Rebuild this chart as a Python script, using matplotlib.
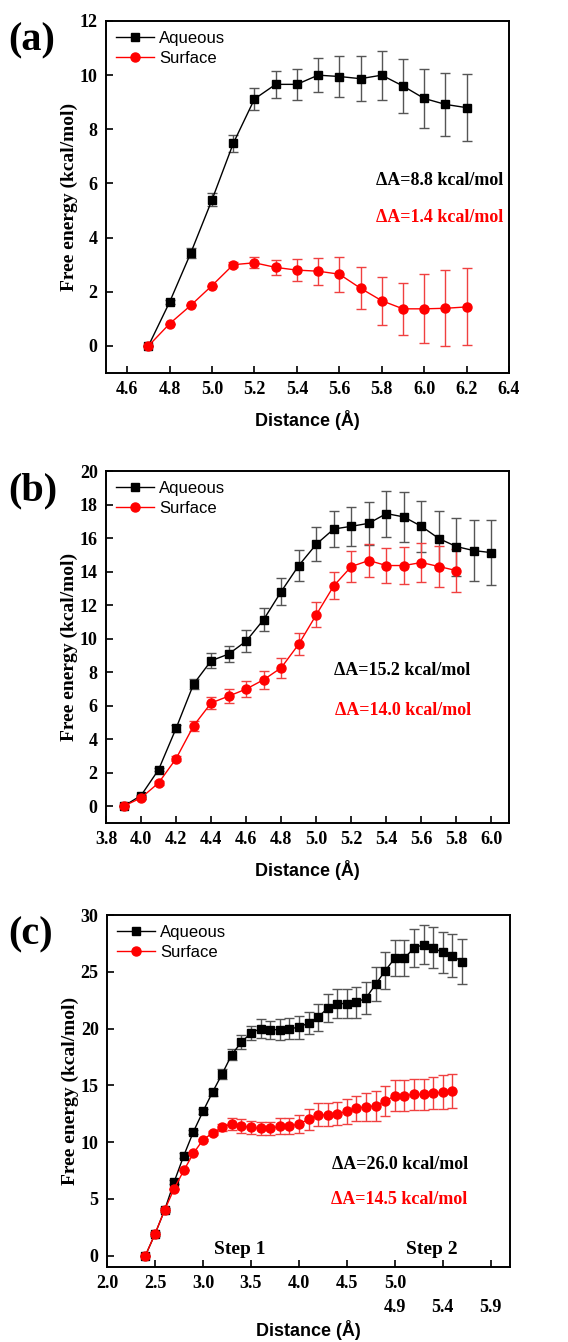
import matplotlib.pyplot as plt
import matplotlib.transforms as mtransforms
from matplotlib.lines import Line2D

# ---- panel (a) ----
dist_a = [4.7, 4.8, 4.9, 5.0, 5.1, 5.2, 5.3, 5.4, 5.5, 5.6, 5.7, 5.8, 5.9, 6.0, 6.1, 6.2]
aq_a = [0.0, 1.62, 3.44, 5.40, 7.48, 9.12, 9.66, 9.66, 10.0, 9.95, 9.87, 10.0, 9.60, 9.14, 8.92, 8.80]
aq_a_err = [0.0, 0.08, 0.18, 0.25, 0.30, 0.40, 0.50, 0.57, 0.64, 0.74, 0.82, 0.90, 0.98, 1.08, 1.17, 1.24]
su_a = [0.0, 0.82, 1.50, 2.23, 3.00, 3.07, 2.90, 2.80, 2.76, 2.65, 2.13, 1.67, 1.37, 1.37, 1.39, 1.44]
su_a_err = [0.0, 0.0, 0.0, 0.0, 0.10, 0.20, 0.28, 0.40, 0.50, 0.65, 0.78, 0.88, 0.96, 1.28, 1.40, 1.42]

# ---- panel (b) ----
dist_b_aq = [3.9, 4.0, 4.1, 4.2, 4.3, 4.4, 4.5, 4.6, 4.7, 4.8, 4.9, 5.0, 5.1, 5.2, 5.3,
             5.4, 5.5, 5.6, 5.7, 5.8, 5.9, 6.0]
aq_b = [0.0, 0.64, 2.18, 4.65, 7.29, 8.68, 9.08, 9.85, 11.14, 12.81, 14.36, 15.63, 16.54,
        16.70, 16.88, 17.46, 17.26, 16.70, 15.97, 15.49, 15.25, 15.13]
aq_b_err = [0.0, 0.05, 0.10, 0.20, 0.32, 0.45, 0.50, 0.64, 0.70, 0.80, 0.93, 1.00, 1.10,
            1.17, 1.30, 1.37, 1.47, 1.53, 1.65, 1.73, 1.83, 1.93]
dist_b_su = [3.9, 4.0, 4.1, 4.2, 4.3, 4.4, 4.5, 4.6, 4.7, 4.8, 4.9, 5.0, 5.1, 5.2, 5.3,
             5.4, 5.5, 5.6, 5.7, 5.8]
su_b = [0.0, 0.50, 1.39, 2.84, 4.80, 6.16, 6.57, 6.99, 7.55, 8.26, 9.67, 11.42, 13.15,
        14.30, 14.66, 14.36, 14.36, 14.54, 14.30, 14.06]
su_b_err = [0.0, 0.05, 0.10, 0.15, 0.30, 0.34, 0.40, 0.46, 0.54, 0.60, 0.66, 0.75, 0.80,
            0.90, 1.00, 1.03, 1.13, 1.16, 1.23, 1.29]

# ---- panel (c): step 1 continues into step 2 on a shifted axis ----
dist_c_aq = [2.4, 2.5, 2.6, 2.7, 2.8, 2.9, 3.0, 3.1, 3.2, 3.3, 3.4, 3.5, 3.6, 3.7, 3.8,
             3.9, 4.0, 4.1, 4.2, 4.3, 4.4, 4.5, 4.6, 4.7, 4.8, 4.9, 5.0, 5.1, 5.2, 5.3,
             5.4, 5.5, 5.6, 5.7]
aq_c = [0.0, 1.9, 4.0, 6.5, 8.8, 10.9, 12.7, 14.4, 16.0, 17.7, 18.8, 19.6, 20.0, 19.9,
        19.9, 20.0, 20.1, 20.5, 21.0, 21.8, 22.2, 22.2, 22.3, 22.7, 23.9, 25.1, 26.2,
        26.2, 27.1, 27.4, 27.1, 26.7, 26.4, 25.9]
aq_c_err = [0.0, 0.2, 0.2, 0.2, 0.2, 0.2, 0.2, 0.3, 0.4, 0.5, 0.6, 0.6, 0.8, 0.8, 0.9,
            0.9, 1.0, 1.0, 1.2, 1.2, 1.3, 1.3, 1.4, 1.4, 1.5, 1.6, 1.6, 1.6, 1.7, 1.7,
            1.8, 1.8, 1.9, 2.0]
dist_c_su = [2.4, 2.5, 2.6, 2.7, 2.8, 2.9, 3.0, 3.1, 3.2, 3.3, 3.4, 3.5, 3.6, 3.7, 3.8,
             3.9, 4.0, 4.1, 4.2, 4.3, 4.4, 4.5, 4.6, 4.7, 4.8, 4.9, 5.0, 5.1, 5.2, 5.3,
             5.4, 5.5, 5.6]
su_c = [0.0, 1.9, 4.0, 5.9, 7.5, 9.0, 10.2, 10.8, 11.3, 11.6, 11.4, 11.3, 11.2, 11.2,
        11.4, 11.4, 11.6, 12.0, 12.4, 12.4, 12.5, 12.7, 13.0, 13.1, 13.2, 13.6, 14.1,
        14.1, 14.2, 14.2, 14.3, 14.4, 14.5]
su_c_err = [0.0, 0.0, 0.0, 0.0, 0.0, 0.0, 0.1, 0.2, 0.3, 0.5, 0.6, 0.6, 0.6, 0.6, 0.7,
            0.7, 0.8, 0.9, 1.0, 1.0, 1.0, 1.1, 1.1, 1.2, 1.3, 1.3, 1.4, 1.4, 1.4, 1.4,
            1.4, 1.5, 1.5]
step2_ticks = [5.0, 5.5, 6.0]
step2_labels = ["4.9", "5.4", "5.9"]

dA_labels = [("\u0394A=8.8 kcal/mol", "\u0394A=1.4 kcal/mol"),
             ("\u0394A=15.2 kcal/mol", "\u0394A=14.0 kcal/mol"),
             ("\u0394A=26.0 kcal/mol", "\u0394A=14.5 kcal/mol")]

SERIF = "Liberation Serif"
SANS = "Liberation Sans"
RED = "#ff0000"

W, H = 568, 1342
fig = plt.figure(figsize=(W / 100, H / 100), dpi=100)


def make_axes(top_px, left_px=106, right_px=509, bottom_px=None):
    bottom_px = top_px + 352 if bottom_px is None else bottom_px
    return fig.add_axes([left_px / W, 1 - bottom_px / H,
                         (right_px - left_px) / W, (bottom_px - top_px) / H])


def style_axes(ax, xlabel_y):
    for s in ax.spines.values():
        s.set_linewidth(1.4)
    ax.tick_params(direction="in", length=5, width=1.2, top=False, right=False, pad=6)
    for lab in ax.get_xticklabels() + ax.get_yticklabels():
        lab.set_fontfamily(SERIF)
        lab.set_fontweight("bold")
        lab.set_fontsize(13)
    ax.set_xlabel("Distance (\u00c5)", fontfamily=SANS, fontweight="bold", fontsize=13)
    ax.xaxis.set_label_coords(0.5, xlabel_y)
    ax.set_ylabel("Free energy (kcal/mol)", fontfamily=SERIF, fontweight="bold", fontsize=14)
    ax.yaxis.set_label_coords(-0.07, 0.5)


def draw_series(ax, x, y, err, color, ecolor, marker, ms):
    ax.errorbar(x, y, yerr=err, color=color, ecolor=ecolor, elinewidth=1.0,
                capsize=3.5, capthick=1.0, marker=marker, markersize=ms,
                linewidth=1.0)


legend_handles = [
    Line2D([], [], color="black", marker="s", markersize=6, linewidth=1.0, label="Aqueous"),
    Line2D([], [], color=RED, marker="o", markersize=6.5, linewidth=1.0, label="Surface"),
]

# (a)
ax = make_axes(21)
draw_series(ax, dist_a, aq_a, aq_a_err, "black", "#555555", "s", 6)
draw_series(ax, dist_a, su_a, su_a_err, RED, "#f04040", "o", 6.5)
ax.set_xlim(4.5, 6.4)
ax.set_ylim(-1, 12)
ax.set_xticks([4.6, 4.8, 5.0, 5.2, 5.4, 5.6, 5.8, 6.0, 6.2, 6.4])
ax.set_xticklabels(["4.6", "4.8", "5.0", "5.2", "5.4", "5.6", "5.8", "6.0", "6.2", "6.4"])
ax.set_yticks(range(0, 13, 2))
style_axes(ax, -0.105)
ax_a = ax

# (b)
ax = make_axes(471)
draw_series(ax, dist_b_aq, aq_b, aq_b_err, "black", "#555555", "s", 6)
draw_series(ax, dist_b_su, su_b, su_b_err, RED, "#f04040", "o", 6.5)
ax.set_xlim(3.8, 6.1)
ax.set_ylim(-1, 20)
ax.set_xticks([3.8, 4.0, 4.2, 4.4, 4.6, 4.8, 5.0, 5.2, 5.4, 5.6, 5.8, 6.0])
ax.set_xticklabels(["3.8", "4.0", "4.2", "4.4", "4.6", "4.8", "5.0", "5.2", "5.4",
                    "5.6", "5.8", "6.0"])
ax.set_yticks(range(0, 21, 2))
style_axes(ax, -0.105)
ax_b = ax

# (c)
ax = make_axes(915, left_px=107, right_px=510)
draw_series(ax, dist_c_aq, aq_c, aq_c_err, "black", "#555555", "s", 6)
draw_series(ax, dist_c_su, su_c, su_c_err, RED, "#f04040", "o", 6.5)
ax.set_xlim(2.0, 6.2)
ax.set_ylim(-1, 30)
ax.set_xticks([2.0, 2.5, 3.0, 3.5, 4.0, 4.5, 5.0, 5.5, 6.0])
ax.set_xticklabels(["2.0", "2.5", "3.0", "3.5", "4.0", "4.5", "5.0", "", ""])
ax.set_yticks(range(0, 31, 5))
style_axes(ax, -0.150)
trans = mtransforms.blended_transform_factory(ax.transData, ax.transAxes)
for xv, lab in zip(step2_ticks, step2_labels):
    ax.text(xv, -0.115, lab, transform=trans, ha="center", va="center",
            fontfamily=SERIF, fontweight="bold", fontsize=13)
ax.text(3.38, 0.05, "Step 1", transform=trans, ha="center", va="center",
        fontfamily=SERIF, fontweight="bold", fontsize=14)
ax.text(5.38, 0.05, "Step 2", transform=trans, ha="center", va="center",
        fontfamily=SERIF, fontweight="bold", fontsize=14)
ax_c = ax

for ax, tag, dA, xy in [(ax_a, "(a)", dA_labels[0], (0.985, 0.547, 0.442)),
                        (ax_b, "(b)", dA_labels[1], (0.905, 0.432, 0.320)),
                        (ax_c, "(c)", dA_labels[2], (0.895, 0.290, 0.192))]:
    ax.legend(handles=legend_handles, loc="upper left", frameon=False, handlelength=2.3,
              prop={"family": SANS, "size": 12}, borderaxespad=0.2,
              labelspacing=0.3, handletextpad=0.3)
    ax.text(xy[0], xy[1], dA[0], transform=ax.transAxes, ha="right", va="center",
            fontfamily=SERIF, fontweight="bold", fontsize=13, color="black")
    ax.text(xy[0], xy[2], dA[1], transform=ax.transAxes, ha="right", va="center",
            fontfamily=SERIF, fontweight="bold", fontsize=13, color=RED)
    top = ax.get_position().y1
    fig.text(8 / W, top - 1 / H, tag, ha="left", va="top", fontfamily=SERIF,
             fontweight="bold", fontsize=29)

fig.savefig("out.png", dpi=100)
